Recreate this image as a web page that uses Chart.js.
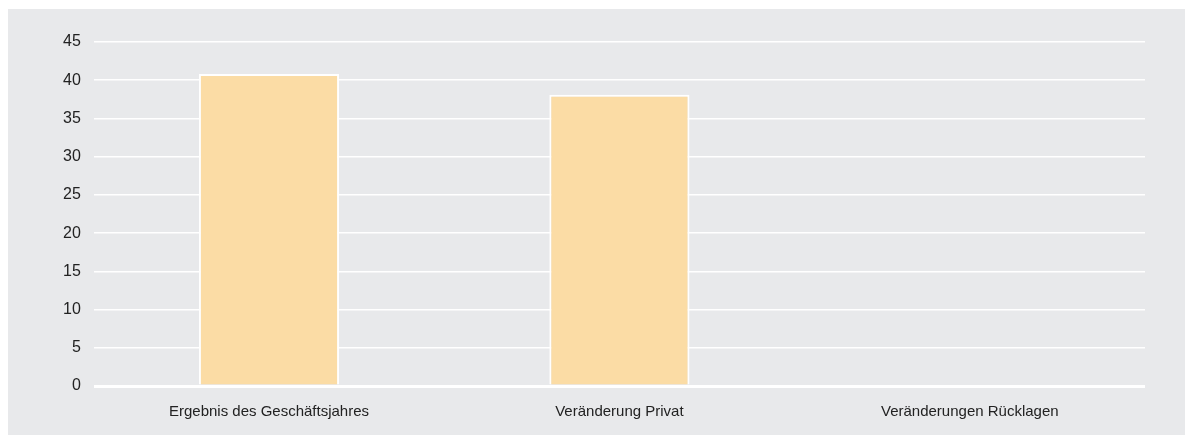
<!DOCTYPE html>
<html>
<head>
<meta charset="utf-8">
<script src="https://cdn.jsdelivr.net/npm/chart.js@4"></script>
<style>
  html, body { margin: 0; padding: 0; background: #fff; }
  #wrap { position: absolute; left: 8px; top: 9px; width: 1177px; height: 426px; background: #e8e9eb; }
</style>
</head>
<body>
<div id="wrap"><canvas id="chart"></canvas></div>
<script>
const categories = ['Ergebnis des Geschäftsjahres', 'Veränderung Privat', 'Veränderungen Rücklagen'];
const values = [40.8, 38.1, 0];
const yTicks = [0, 5, 10, 15, 20, 25, 30, 35, 40, 45];

const ctx = document.getElementById('chart');

new Chart(ctx, {
  type: 'bar',
  data: {
    labels: categories,
    datasets: [{
      data: values,
      backgroundColor: '#fbdca5',
      borderColor: '#ffffff',
      borderWidth: 2,
      categoryPercentage: 1,
      barPercentage: 0.4
    }]
  },
  options: {
    responsive: true,
    maintainAspectRatio: false,
    animation: false,
    layout: { padding: { top: 33, right: 40, bottom: 5, left: 42 } },
    plugins: {
      legend: { display: false },
      tooltip: { enabled: false }
    },
    scales: {
      x: {
        grid: { display: false },
        border: { display: false },
        ticks: { color: '#222', font: { family: 'Liberation Sans, Arial', size: 15 }, padding: 9 }
      },
      y: {
        min: 0,
        max: 45,
        afterBuildTicks: (axis) => { axis.ticks = yTicks.map(v => ({ value: v })); },
        grid: {
          color: '#ffffff',
          lineWidth: (c) => c.tick && c.tick.value === 0 ? 3 : 1.5,
          drawTicks: false
        },
        border: { display: false },
        ticks: { color: '#222', font: { family: 'Liberation Sans, Arial', size: 16 }, padding: 13 }
      }
    }
  }
});
</script>
</body>
</html>
